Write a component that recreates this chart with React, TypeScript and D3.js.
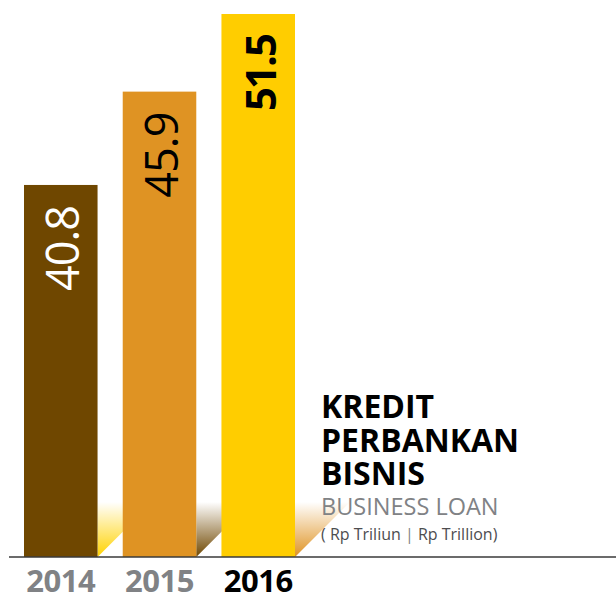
import React from 'react';
import * as d3 from 'd3';

// data
const years = ['2014', '2015', '2016'];
const values = [40.8, 45.9, 51.5];
const barColors = ['#6f4700', '#df9323', '#ffcd00'];
const shadowColors = ['#ffd200', '#6f4700', '#df9323'];
const labelColors = ['#ffffff', '#000000', '#000000'];
const labelWeights = [400, 400, 700];
const yearColors = ['#808285', '#808285', '#000000'];
const titleLines = ['KREDIT', 'PERBANKAN', 'BISNIS'];

const W = 616;
const H = 598;
const baseY = 557;
const valueFloor = 34; // printed bars start from a cut-off baseline

export default function App() {
  const x = d3.scaleBand().domain(years).range([24, 295]).paddingInner(0.255).paddingOuter(0);
  const yScale = d3.scalePow().exponent(0.4).domain([0, 51.5 - valueFloor]).range([baseY, 14]);
  const y = (v: number) => yScale(v - valueFloor);
  const bw = x.bandwidth();

  // triangle shadow at the foot of each bar
  const shadow = (x0: number) => {
    const p = d3.path();
    p.moveTo(x0, baseY - 55);
    p.lineTo(x0 + 55, baseY - 55);
    p.lineTo(x0, baseY);
    p.closePath();
    return p.toString();
  };

  return (
    <svg width={W} height={H} style={{ position: 'absolute', left: 0, top: 0 }}
      fontFamily="'Open Sans', sans-serif">
      <defs>
        {shadowColors.map((c, i) => (
          <linearGradient key={i} id={'sh' + i} x1="0" y1="0" x2="0" y2="1">
            <stop offset="0" stopColor={c} stopOpacity={0} />
            <stop offset="1" stopColor={c} stopOpacity={1} />
          </linearGradient>
        ))}
      </defs>

      {years.map((yr, i) => (
        <path key={'s' + yr} d={shadow((x(yr) as number) + bw)} fill={`url(#sh${i})`} />
      ))}

      {years.map((yr, i) => (
        <rect key={yr} x={x(yr)} y={y(values[i])} width={bw} height={baseY - y(values[i])}
          fill={barColors[i]} />
      ))}

      {years.map((yr, i) => {
        const cx = (x(yr) as number) + bw / 2 + 18;
        const ty = y(values[i]) + 21;
        return (
          <text key={'v' + yr} transform={`translate(${cx},${ty}) rotate(-90)`}
            textAnchor="end" fontSize={i === 2 ? 42 : 45} fontWeight={labelWeights[i]}
            letterSpacing={i === 2 ? -2 : -1} fill={labelColors[i]}>
            {values[i].toFixed(1)}
          </text>
        );
      })}

      <line x1={9} x2={W} y1={baseY} y2={baseY} stroke="#3a3a3a" strokeWidth={1.5} />

      {years.map((yr, i) => (
        <text key={'y' + yr} x={(x(yr) as number) + bw / 2} y={592} textAnchor="middle"
          fontSize={31} fontWeight={700} letterSpacing={-0.5} fill={yearColors[i]}>
          {yr}
        </text>
      ))}

      {titleLines.map((t, i) => (
        <text key={t} x={321} y={418 + i * 33.5} fontSize={32} fontWeight={700} fill="#000">
          {t}
        </text>
      ))}
      <text x={321} y={515} fontSize={23.5} fill="#808285">BUSINESS LOAN</text>
      <text x={321} y={540} fontSize={16} fill="#4d4d4f">
        ( Rp Triliun <tspan fill="#808285">|</tspan> Rp Trillion)
      </text>
    </svg>
  );
}
